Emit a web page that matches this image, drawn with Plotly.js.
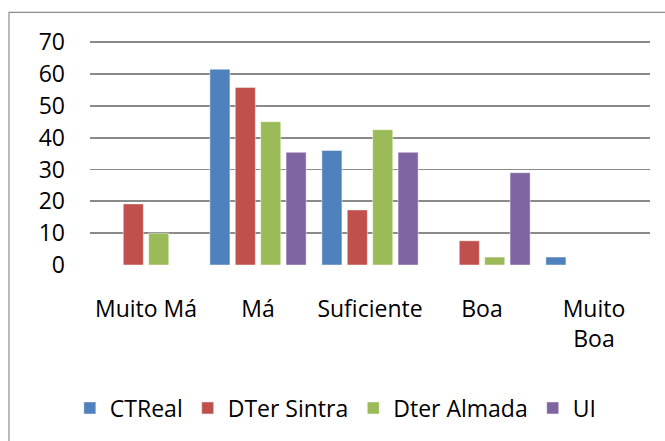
<!DOCTYPE html>
<html>
<head>
<meta charset="utf-8">
<script src="https://cdn.plot.ly/plotly-3.0.1.min.js"></script>
<style>
  html, body { margin: 0; padding: 0; background: #fff; }
  #chart { width: 665px; height: 441px; }
</style>
</head>
<body>
<div id="chart"></div>
<script>
const categories = ["Muito Má", "Má", "Suficiente", "Boa", "Muito Boa"];
const tickLabels = ["Muito Má", "Má", "Suficiente", "Boa", "Muito<br>Boa"];
const seriesNames = ["CTReal", "DTer Sintra", "Dter Almada", "UI"];
const ctreal      = [0, 61.5, 36, 0, 2.5];
const dterSintra  = [19.2, 55.8, 17.3, 7.6, 0];
const dterAlmada  = [10, 45, 42.5, 2.5, 0];
const ui          = [0, 35.4, 35.4, 29, 0];
const yTicks      = [0, 10, 20, 30, 40, 50, 60, 70];
const seriesValues = [ctreal, dterSintra, dterAlmada, ui];
const colors = ["#4F81BD", "#C0504D", "#9BBB59", "#8064A2"];

const traces = seriesNames.map((name, i) => ({
  type: "bar",
  name: name,
  x: categories,
  y: seriesValues[i],
  marker: { color: colors[i], line: { color: "rgba(255,255,255,0.45)", width: 1 } },
  hoverinfo: "x+y+name"
}));

const font = { family: "'Open Sans', sans-serif", size: 23, color: "#000" };

const layout = {
  width: 665,
  height: 441,
  margin: { l: 90, r: 15, t: 39, b: 176, pad: 0 },
  paper_bgcolor: "#fff",
  plot_bgcolor: "#fff",
  font: font,
  barmode: "group",
  bargap: 0.093,
  bargroupgap: 0.21,
  showlegend: true,
  legend: {
    orientation: "h",
    x: -0.036, xanchor: "left",
    y: (265 - 408) / 226, yanchor: "middle",
    font: font,
    itemclick: false
  },
  xaxis: {
    type: "category",
    tickmode: "array",
    tickvals: categories,
    ticktext: tickLabels,
    showgrid: false,
    zeroline: false,
    showline: false,
    ticks: "",
    ticklabelstandoff: 28,
    tickfont: font,
    fixedrange: true
  },
  yaxis: {
    range: [0, 71],
    tickmode: "array",
    tickvals: yTicks,
    showgrid: true,
    gridcolor: "#8a8a8a",
    gridwidth: 1.7,
    zeroline: false,
    showline: false,
    ticks: "",
    ticklabelstandoff: 24,
    tickfont: font,
    fixedrange: true
  },
  shapes: [{
    type: "rect",
    xref: "paper", yref: "paper",
    x0: (9 - 90) / 560, x1: (672 - 90) / 560,
    y0: (265 - 450) / 226, y1: (265 - 12.3) / 226,
    line: { color: "#8c8c8c", width: 1.2 },
    fillcolor: "rgba(0,0,0,0)",
    layer: "below"
  }]
};

Plotly.newPlot("chart", traces, layout, { displayModeBar: false, staticPlot: true });
</script>
</body>
</html>
